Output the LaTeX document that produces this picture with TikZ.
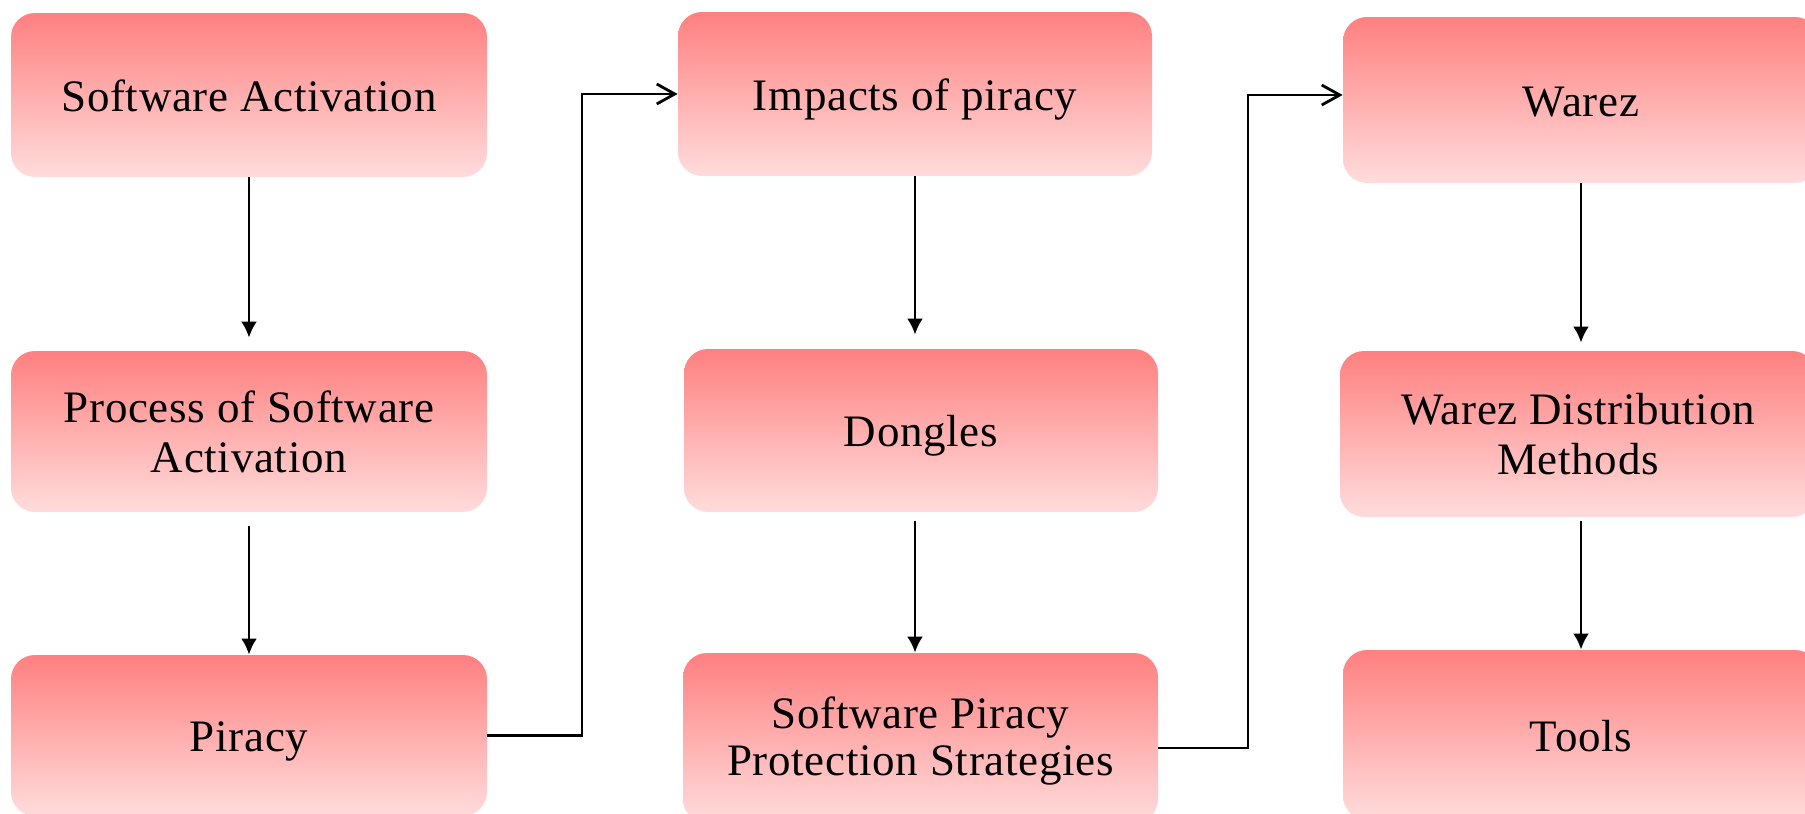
\documentclass[tikz,border=0pt]{standalone}
\usepackage{fontspec}
\setmainfont{Liberation Serif}[LetterSpace=1.5]
\usepackage{tikz}
\usetikzlibrary{arrows.meta,shapes}
\definecolor{boxtop}{RGB}{255,128,128}
\definecolor{boxbot}{RGB}{255,220,220}
\tikzstyle{box} = [rectangle, rounded corners=12pt, top color=boxtop, bottom color=boxbot, minimum width=238pt, minimum height=82pt, align=center, font=\fontsize{22.5pt}{25pt}\selectfont, execute at begin node={\rule[-6pt]{0pt}{28.4pt}}, execute at end node={\rule[-6pt]{0pt}{6pt}}]
\tikzstyle{twoline} = [text depth=-0.5pt]
\tikzstyle{down} = [line width=1.4pt, -{Latex[length=8pt,width=8pt]}]
\tikzstyle{elbow} = [line width=1.4pt, -{Straight Barb[length=9pt,width=10pt]}]

\begin{document}
\begin{tikzpicture}[x=0.5pt, y=-0.5pt]
                    \useasboundingbox (0, 0) rectangle (1805, 814);
                    % first column
                    \node [box] (act) at (249, 95) {Software Activation};
                    \node [box, twoline, minimum height=80.5pt] (proc) at (249, 431.5) {Process of Software\\Activation};
                    \node [box, minimum height=80.5pt] (pir) at (249, 735.5) {Piracy};
                    % second column
                    \node [box, minimum width=237pt] (imp) at (915, 94) {Impacts of piracy};
                    \node [box, minimum width=237pt, minimum height=81.5pt] (dong) at (921, 430.5) {Dongles};
                    \node [box, minimum width=237.5pt, minimum height=85pt, font=\fontsize{22.5pt}{23.4pt}\selectfont, text depth=1.5pt] (spps) at (920.5, 738) {Software Piracy\\Protection Strategies};
                    % third column
                    \node [box, minimum height=83pt] (war) at (1581, 100) {Warez};
                    \node [box, twoline, minimum height=83pt] (wdm) at (1578, 434) {Warez Distribution\\Methods};
                    \node [box, minimum height=85pt] (tools) at (1581, 735) {Tools};
                    % vertical arrows
                    \draw [down, shorten >=6.5pt] (act) -- (proc);
                    \draw [down, shorten <=7pt] (proc) -- (pir);
                    \draw [down, shorten >=7pt] (imp.south) -- (imp.south |- dong.north);
                    \draw [down, shorten <=4.5pt] (imp.south |- dong.south) -- (imp.south |- spps.north);
                    \draw [down, shorten >=4pt] (war.south) -- (war.south |- wdm.north);
                    \draw [down, shorten <=2pt] (war.south |- wdm.south) -- (tools.north);
                    % links between columns
                    \coordinate (j1) at (582, 735.5);
                    \coordinate (j2) at (1248, 748);
                    \coordinate (j3) at (1248, 95);
                    \draw [elbow] (pir.east) -- (j1) |- (imp.west);
                    \draw [elbow] (spps.east |- j2) -- (j2) -- (j3) -- (war.west |- j3);
                \end{tikzpicture}
\end{document}
